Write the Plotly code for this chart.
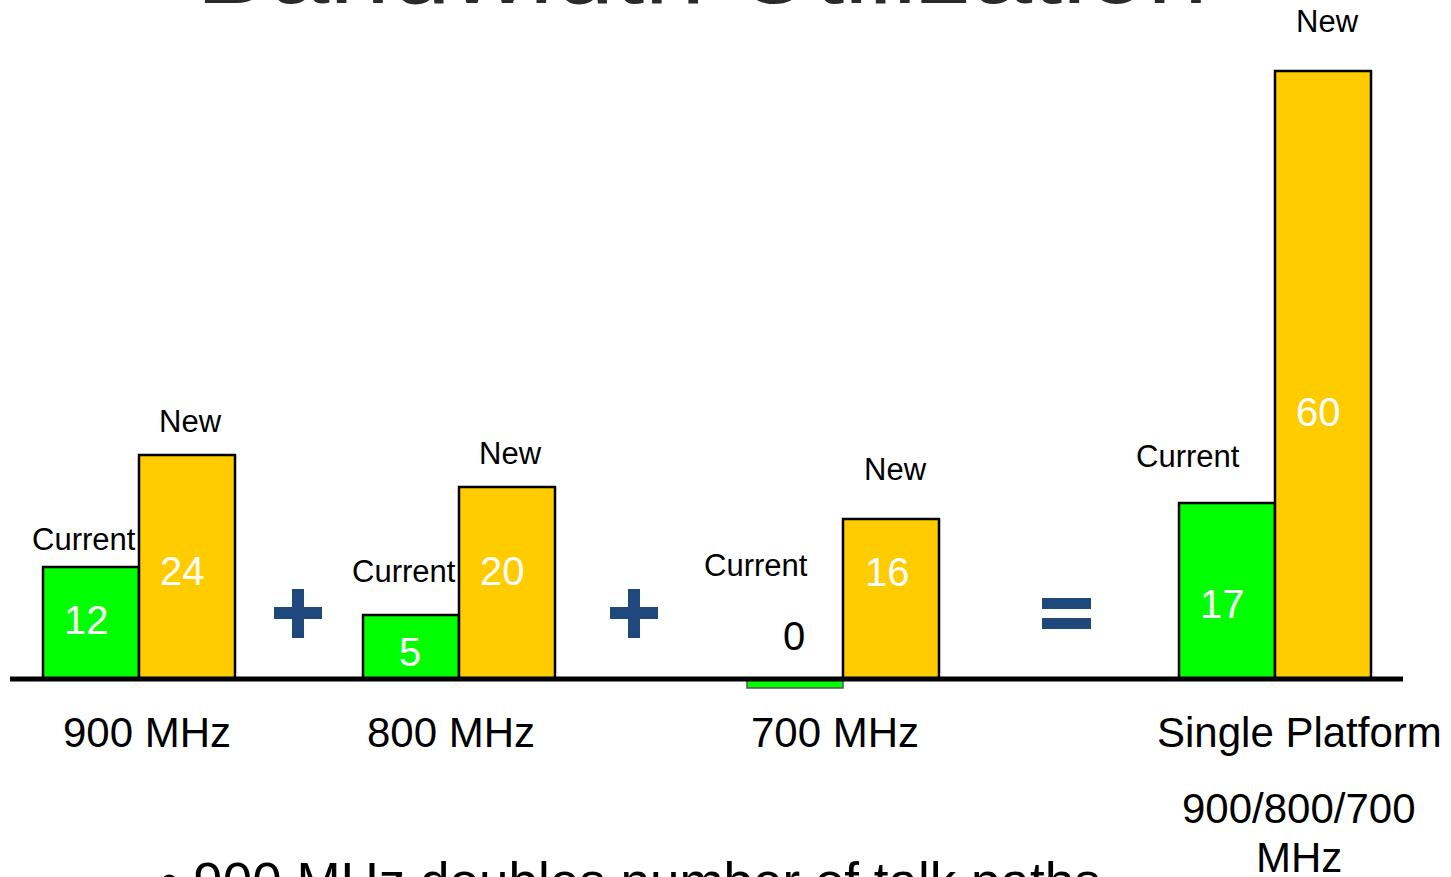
import plotly.graph_objects as go

# ---------------- data ----------------
categories = ["900 MHz", "800 MHz", "700 MHz", "Single Platform"]
category_sub = [[], [], [], ["900/800/700", "MHz"]]
series_names = ["Current", "New"]
current_values = [12, 5, 0, 17]
new_values = [24, 20, 16, 60]
# bar lengths as drawn on the slide (not proportional to the labels)
current_drawn = [11.2, 6.4, -0.9, 17.6]
new_drawn = [22.4, 19.2, 16.0, 60.8]
operators = ["+", "+", "="]
title_text = "Bandwidth Utilization"
bullet_text = "\u2022 900 MHz doubles number of talk paths"

# ---------------- layout constants ----------------
FONT = "Liberation Sans, Arial, sans-serif"
GREEN = "#00FF00"
YELLOW = "#FFCC00"
OPBLUE = "#1F497D"
W, H = 1451, 877
BASE_PX = 679  # baseline pixel row
PX = 10.0      # pixels per y unit


def py(p):
    return (BASE_PX - p) / PX


group_x = [139, 459, 843, 1275]
bar_w = 96
cur_label_pos = [(84, 539), (404, 571), (756, 565), (1188, 456)]
new_label_pos = [(190, 421), (510, 453), (895, 469), (1327, 21)]
cur_val_pos = [(86, 620), (410, 652), (794, 636), (1222, 604)]
new_val_pos = [(182, 571), (502, 571), (887, 572), (1318, 412)]
cat_pos = [(147, 732), (451, 732), (835, 732), (1299, 732)]
sub_x = 1299
sub_y = [808, 857]
op_pos = [(298, 613), (634, 613), (1066, 613)]

fig = go.Figure()
fig.add_trace(go.Bar(
    x=group_x, y=current_drawn, width=bar_w, offset=-bar_w,
    name=series_names[0], marker=dict(color=GREEN,
        line=dict(color=["black", "black", "#555555", "black"], width=[2.5, 2.5, 1.5, 2.5])),
    hoverinfo="skip"))
fig.add_trace(go.Bar(
    x=group_x, y=new_drawn, width=bar_w, offset=0,
    name=series_names[1], marker=dict(color=YELLOW, line=dict(color="black", width=2.5)),
    hoverinfo="skip"))

ann = []


def add_text(text, x, ypx, size, color="black", xanchor="center", paper=False):
    if paper:
        ann.append(dict(text=text, x=x / W, y=1 - ypx / H, xref="paper", yref="paper",
                        showarrow=False, xanchor=xanchor, yanchor="middle",
                        font=dict(family=FONT, size=size, color=color)))
    else:
        ann.append(dict(text=text, x=x, y=py(ypx), xref="x", yref="y", showarrow=False,
                        xanchor=xanchor, yanchor="middle",
                        font=dict(family=FONT, size=size, color=color)))


for i in range(len(categories)):
    add_text(series_names[0], cur_label_pos[i][0], cur_label_pos[i][1], 31)
    add_text(series_names[1], new_label_pos[i][0], new_label_pos[i][1], 31)
    cv_color = "black" if current_values[i] == 0 else "white"
    add_text(str(current_values[i]), cur_val_pos[i][0], cur_val_pos[i][1], 40, cv_color)
    add_text(str(new_values[i]), new_val_pos[i][0], new_val_pos[i][1], 40, "white")
    add_text(categories[i], cat_pos[i][0], cat_pos[i][1], 42)
    for line, ly in zip(category_sub[i], sub_y):
        add_text(line, sub_x, ly, 42, paper=True)

# title (cut at the top of the slide) and bullet (cut at bottom)
add_text(title_text, 702, -35, 109, "#2a2a2a", paper=True)
add_text(bullet_text, 158, 881, 53, "black", xanchor="left", paper=True)

shapes = []
# baseline
shapes.append(dict(type="line", xref="x", yref="y", x0=10, x1=1403, y0=0, y1=0,
                   line=dict(color="black", width=5), layer="above"))
# operators drawn as blocks
for op, (cx, cy) in zip(operators, op_pos):
    if op == "+":
        shapes.append(dict(type="rect", xref="x", yref="y", x0=cx - 24, x1=cx + 24,
                           y0=py(cy + 6), y1=py(cy - 6), fillcolor=OPBLUE, line=dict(width=0)))
        shapes.append(dict(type="rect", xref="x", yref="y", x0=cx - 6, x1=cx + 6,
                           y0=py(cy + 25), y1=py(cy - 24), fillcolor=OPBLUE, line=dict(width=0)))
    else:
        shapes.append(dict(type="rect", xref="x", yref="y", x0=cx - 24, x1=cx + 25,
                           y0=py(cy - 4), y1=py(cy - 15), fillcolor=OPBLUE, line=dict(width=0)))
        shapes.append(dict(type="rect", xref="x", yref="y", x0=cx - 24, x1=cx + 25,
                           y0=py(cy + 16), y1=py(cy + 5), fillcolor=OPBLUE, line=dict(width=0)))

fig.update_layout(
    width=W, height=H, margin=dict(l=0, r=0, t=0, b=0),
    paper_bgcolor="white", plot_bgcolor="white", showlegend=False,
    barmode="overlay", annotations=ann, shapes=shapes,
    xaxis=dict(range=[0, W], visible=False, fixedrange=True),
    yaxis=dict(range=[py(H), py(0)], visible=False, fixedrange=True),
)

fig.write_html(
    "out.html",
    config={"displayModeBar": False},
    post_script="document.body.style.margin='0';document.body.style.overflow='hidden';",
)
